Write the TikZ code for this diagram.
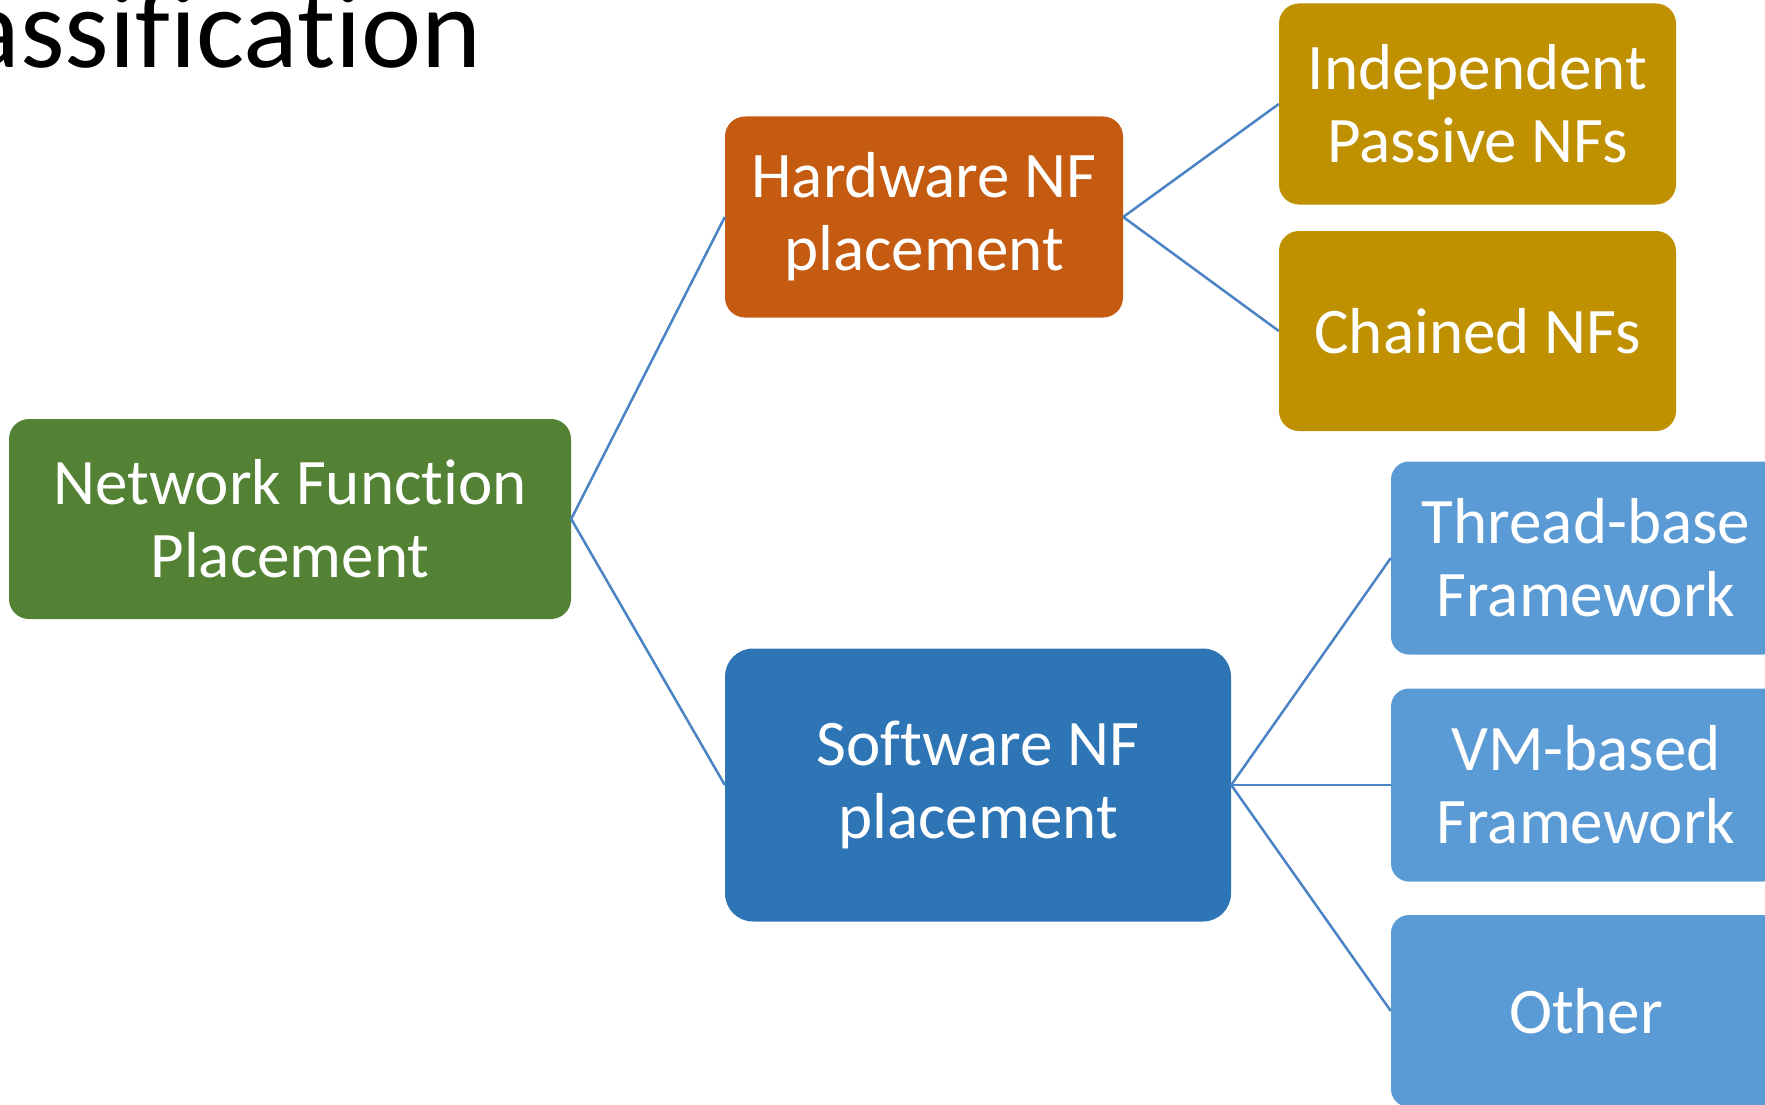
\documentclass[tikz,border=0pt]{standalone}
\usepackage{fontspec}
\setmainfont{Carlito}[Ligatures={NoCommon,NoRequired,NoContextual}]
\definecolor{cgreen}{HTML}{548235}
\definecolor{corange}{HTML}{C55A11}
\definecolor{cgold}{HTML}{BF9000}
\definecolor{cblue}{HTML}{2E75B6}
\definecolor{clight}{HTML}{5B9BD5}
\definecolor{cline}{HTML}{4A84C4}
\tikzset{
  box/.style={rectangle, rounded corners=20pt, inner sep=0pt, align=center,
    text=white, font=\fontsize{65}{73}\selectfont},
  link/.style={draw=cline, line width=2.5pt}
}
\begin{document}
\begin{tikzpicture}[x=1pt,y=-1pt]
\useasboundingbox (0,0) rectangle (1765,1105);
\clip (0,0) rectangle (1765,1105);
\fill[white] (0,0) rectangle (1765,1105);
\node[anchor=base east, inner sep=0pt, font=\fontsize{114}{120}\selectfont] (title) at (482,68) {Classification};
\node[box, fill=cgreen, minimum width=562pt, minimum height=200pt] (root) at (290,519) {Network Function\\Placement};
\node[box, fill=corange, minimum width=398pt, minimum height=201pt] (hw) at (924,217) {Hardware NF\\placement};
\node[box, fill=cgold, minimum width=397pt, minimum height=201pt] (ind) at (1477.5,104) {Independent\\Passive NFs};
\node[box, fill=cgold, minimum width=397pt, minimum height=200pt] (ch) at (1477.5,331) {Chained NFs};
\node[box, fill=cblue, minimum width=506pt, minimum height=273pt, rounded corners=28pt] (sw) at (978,785) {Software NF\\placement};
\node[box, fill=clight, minimum width=390pt, minimum height=193pt, rounded corners=18pt] (th) at (1586,558) {Thread-base\\Framework};
\node[box, fill=clight, minimum width=390pt, minimum height=193pt, rounded corners=18pt] (vm) at (1586,785) {VM-based\\Framework};
\node[box, fill=clight, minimum width=390pt, minimum height=192pt, rounded corners=18pt] (ot) at (1586,1011) {Other};
\draw[link] (root.east) -- (hw.west);
\draw[link] (root.east) -- (sw.west);
\draw[link] (hw.east) -- (ind.west);
\draw[link] (hw.east) -- (ch.west);
\draw[link] (sw.east) -- (th.west);
\draw[link] (sw.east) -- (vm.west);
\draw[link] (sw.east) -- (ot.west);
\end{tikzpicture}
\end{document}
